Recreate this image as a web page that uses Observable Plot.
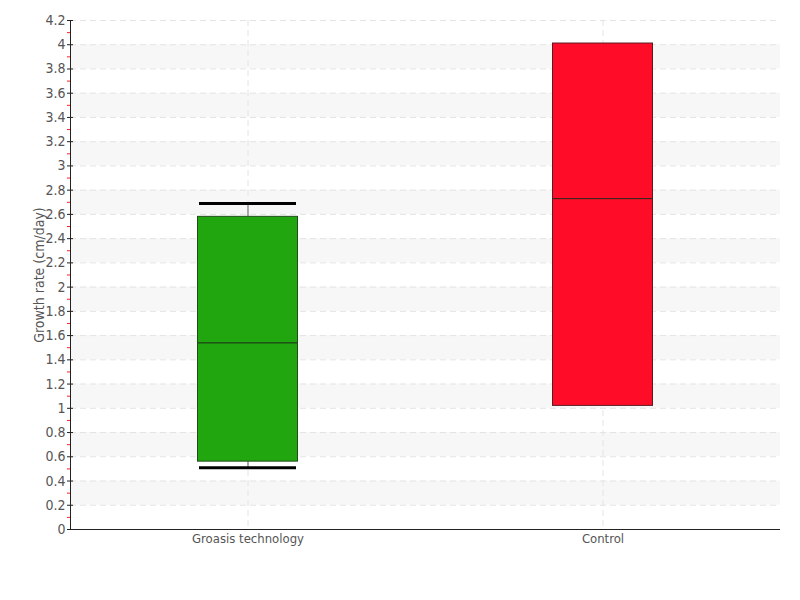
<!DOCTYPE html>
<html>
<head>
<meta charset="utf-8">
<script src="https://cdn.jsdelivr.net/npm/d3@7"></script>
<script src="https://cdn.jsdelivr.net/npm/@observablehq/plot@0.6"></script>
<style>
  html, body { margin: 0; padding: 0; background: #fff; }
</style>
</head>
<body>
<div id="chart"></div>
<script>
const categories = ["Groasis technology", "Control"];
const whiskerHigh = [2.69, 4.01];
const q3 = [2.58, 4.01];
const median = [1.54, 2.73];
const q1 = [0.56, 1.02];
const whiskerLow = [0.51, 1.02];
const fills = ["#22a60f", "#ff0c28"];
const strokes = ["#1f4d17", "#5a1a22"];

const yTicks = d3.range(0, 22).map(i => +(i * 0.2).toFixed(1));
const yMinor = d3.range(0, 21).map(i => +(i * 0.2 + 0.1).toFixed(1));
const bandLow = d3.range(0, 10).map(i => +(0.2 + i * 0.4).toFixed(1));
const bandHigh = bandLow.map(v => +(v + 0.2).toFixed(1));

const data = categories.map((c, i) => ({
  cat: c, hi: whiskerHigh[i], q3: q3[i], med: median[i], q1: q1[i], lo: whiskerLow[i],
  fill: fills[i], stroke: strokes[i]
}));
const bands = bandLow.map((v, i) => ({y1: v, y2: bandHigh[i]}));

const font = "'Liberation Sans Narrow', 'DejaVu Sans Condensed', 'Roboto', sans-serif";

const chart = Plot.plot({
  width: 800,
  height: 600,
  marginLeft: 70,
  marginRight: 20,
  marginTop: 20,
  marginBottom: 71,
  style: {fontFamily: font, background: "#fff", color: "#555"},
  x: {domain: categories, padding: 0, axis: null},
  y: {domain: [0, 4.2], axis: null},
  marks: [
    Plot.rect(bands, {y1: "y1", y2: "y2", fill: "#f7f7f7"}),
    Plot.ruleY(yTicks.filter(d => d > 0), {stroke: "#e4e4e4", strokeDasharray: "6,4"}),
    Plot.ruleX(categories, {stroke: "#e4e4e4", strokeDasharray: "6,4"}),
    Plot.ruleX(data, {x: "cat", y1: "q3", y2: "hi", stroke: "#777", strokeWidth: 1.2}),
    Plot.ruleX(data, {x: "cat", y1: "lo", y2: "q1", stroke: "#777", strokeWidth: 1.2}),
    Plot.barY(data, {x: "cat", y1: "q1", y2: "q3", fill: "fill", stroke: "stroke", strokeWidth: 1, insetLeft: 127.5, insetRight: 127.5}),
    Plot.tickY(data, {x: "cat", y: "med", stroke: "#1e2a1a", strokeWidth: 1, insetLeft: 128, insetRight: 128}),
    Plot.tickY(data.filter(d => d.hi > d.q3), {x: "cat", y: "hi", stroke: "#000", strokeWidth: 3, insetLeft: 129, insetRight: 129}),
    Plot.tickY(data.filter(d => d.lo < d.q1), {x: "cat", y: "lo", stroke: "#000", strokeWidth: 3, insetLeft: 129, insetRight: 129}),
    Plot.axisY({ticks: yMinor, tickSize: 3, text: null, stroke: "#ff2020", strokeOpacity: 1, label: null}),
    Plot.axisY({ticks: yTicks, tickSize: -3, text: null, stroke: "#222", strokeOpacity: 1, label: null}),
    Plot.axisY({ticks: yTicks, tickSize: 3, tickPadding: 2, stroke: "#222", strokeOpacity: 1, fill: "#555", fontSize: 14,
      tickFormat: d => String(d), label: "Growth rate (cm/day)", labelAnchor: "center", labelOffset: 36, labelArrow: false}),
    Plot.frame({anchor: "left", stroke: "#222"}),
    Plot.ruleY([0], {stroke: "#222"}),
    Plot.axisX({tickSize: 0, tickPadding: 4, fontSize: 13, fill: "#555", label: null})
  ]
});
document.getElementById("chart").appendChild(chart);
</script>
</body>
</html>
